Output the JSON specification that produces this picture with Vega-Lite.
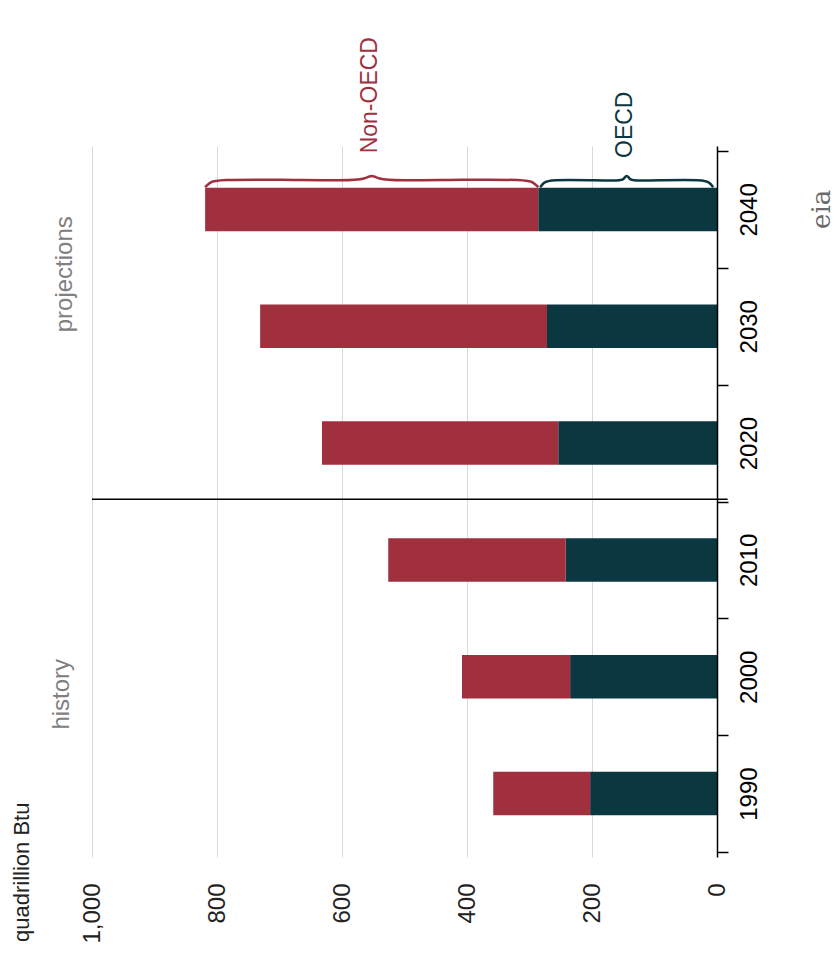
{
  "$schema": "https://vega.github.io/schema/vega-lite/v6.json",
  "width": 625,
  "height": 711,
  "autosize": {"type": "none"},
  "padding": {"left": 92, "top": 146, "right": 122, "bottom": 108},
  "background": "white",
  "config": {"view": {"stroke": null}, "font": "Liberation Sans"},
  "datasets": {
    "bars": [
      {"year": 1990, "region": "OECD", "value": 203},
      {"year": 1990, "region": "Non-OECD", "value": 155},
      {"year": 2000, "region": "OECD", "value": 235},
      {"year": 2000, "region": "Non-OECD", "value": 173},
      {"year": 2010, "region": "OECD", "value": 242},
      {"year": 2010, "region": "Non-OECD", "value": 284},
      {"year": 2020, "region": "OECD", "value": 254},
      {"year": 2020, "region": "Non-OECD", "value": 378},
      {"year": 2030, "region": "OECD", "value": 272},
      {"year": 2030, "region": "Non-OECD", "value": 459},
      {"year": 2040, "region": "OECD", "value": 286},
      {"year": 2040, "region": "Non-OECD", "value": 533}
    ],
    "braces": [
      {"region": "Non-OECD", "v": 819, "y": 2041.9},
      {"region": "Non-OECD", "v": 812, "y": 2042.3},
      {"region": "Non-OECD", "v": 800, "y": 2042.55},
      {"region": "Non-OECD", "v": 700, "y": 2042.55},
      {"region": "Non-OECD", "v": 590, "y": 2042.45},
      {"region": "Non-OECD", "v": 562, "y": 2042.6},
      {"region": "Non-OECD", "v": 552.5, "y": 2043.0},
      {"region": "Non-OECD", "v": 543, "y": 2042.6},
      {"region": "Non-OECD", "v": 515, "y": 2042.45},
      {"region": "Non-OECD", "v": 405, "y": 2042.55},
      {"region": "Non-OECD", "v": 305, "y": 2042.55},
      {"region": "Non-OECD", "v": 293, "y": 2042.3},
      {"region": "Non-OECD", "v": 286, "y": 2041.9},
      {"region": "OECD", "v": 283, "y": 2041.9},
      {"region": "OECD", "v": 277, "y": 2042.3},
      {"region": "OECD", "v": 268, "y": 2042.55},
      {"region": "OECD", "v": 200, "y": 2042.5},
      {"region": "OECD", "v": 154, "y": 2042.45},
      {"region": "OECD", "v": 149, "y": 2042.6},
      {"region": "OECD", "v": 144.5, "y": 2043.0},
      {"region": "OECD", "v": 140, "y": 2042.6},
      {"region": "OECD", "v": 135, "y": 2042.45},
      {"region": "OECD", "v": 89, "y": 2042.5},
      {"region": "OECD", "v": 21, "y": 2042.55},
      {"region": "OECD", "v": 12, "y": 2042.3},
      {"region": "OECD", "v": 6, "y": 2041.9}
    ]
  },
  "layer": [
    {
      "data": {"name": "bars"},
      "mark": {"type": "bar", "orient": "horizontal", "size": 43.5},
      "encoding": {
        "y": {
          "field": "year",
          "type": "quantitative",
          "scale": {"domain": [1985, 2045], "nice": false, "zero": false},
          "axis": {
            "orient": "right",
            "zindex": 1,
            "values": [1985, 1990, 1995, 2000, 2005, 2010, 2015, 2020, 2025, 2030, 2035, 2040, 2045],
            "format": "d",
            "labelExpr": "datum.value % 10 === 0 ? datum.label : ''",
            "title": null,
            "grid": false,
            "domainColor": "black",
            "domainWidth": 1.5,
            "tickColor": "black",
            "tickWidth": 1.5,
            "tickSize": 11,
            "tickOpacity": {"condition": {"test": "datum.value % 10 === 0", "value": 0}, "value": 1},
            "labelAngle": 270,
            "labelAlign": "center",
            "labelBaseline": "top",
            "labelPadding": 9,
            "labelFontSize": 24,
            "labelColor": "black",
            "labelOverlap": false
          }
        },
        "x": {
          "field": "value",
          "type": "quantitative",
          "stack": "zero",
          "scale": {"domain": [0, 1000], "reverse": true, "nice": false},
          "axis": {
            "values": [0, 200, 400, 600, 800, 1000],
            "format": ",d",
            "title": null,
            "domain": false,
            "ticks": false,
            "tickSize": 0,
            "labelAngle": 270,
            "labelAlign": "right",
            "labelBaseline": "middle",
            "labelPadding": 26,
            "labelFontSize": 24,
            "labelColor": "#222222",
            "grid": true,
            "gridColor": "#d9d9d9",
            "gridWidth": 1
          }
        },
        "color": {
          "field": "region",
          "type": "nominal",
          "scale": {"domain": ["OECD", "Non-OECD"], "range": ["#0A3740", "#A0303E"]},
          "legend": null
        },
        "order": {"field": "region", "sort": "descending"}
      }
    },
    {
      "data": {"name": "braces"},
      "mark": {"type": "line", "interpolate": "basis", "strokeWidth": 2.5},
      "encoding": {
        "x": {"field": "v", "type": "quantitative"},
        "y": {"field": "y", "type": "quantitative"},
        "color": {"field": "region", "type": "nominal", "legend": null}
      }
    },
    {
      "data": {"values": [{"y": 2015.2, "x1": 1000, "x2": -17}]},
      "mark": {"type": "rule", "color": "black", "strokeWidth": 1.5},
      "encoding": {
        "y": {"field": "y", "type": "quantitative"},
        "x": {"field": "x1", "type": "quantitative"},
        "x2": {"field": "x2"}
      }
    },
    {
      "data": {"values": [{"label": "history", "v": 1048, "yr": 1998.5}, {"label": "projections", "v": 1043, "yr": 2034.45}]},
      "mark": {"type": "text", "angle": 270, "align": "center", "baseline": "middle", "fontSize": 24, "color": "#808080"},
      "encoding": {
        "x": {"field": "v", "type": "quantitative"},
        "y": {"field": "yr", "type": "quantitative"},
        "text": {"field": "label"}
      }
    },
    {
      "data": {"values": [{"label": "Non-OECD", "v": 555, "yr": 2044.8}]},
      "mark": {"type": "text", "angle": 270, "align": "left", "baseline": "middle", "fontSize": 23, "color": "#A0303E"},
      "encoding": {
        "x": {"field": "v", "type": "quantitative"},
        "y": {"field": "yr", "type": "quantitative"},
        "text": {"field": "label"}
      }
    },
    {
      "data": {"values": [{"label": "OECD", "v": 147, "yr": 2044.4}]},
      "mark": {"type": "text", "angle": 270, "align": "left", "baseline": "middle", "fontSize": 23, "color": "#0A3740"},
      "encoding": {
        "x": {"field": "v", "type": "quantitative"},
        "y": {"field": "yr", "type": "quantitative"},
        "text": {"field": "label"}
      }
    },
    {
      "data": {"values": [{"label": "quadrillion  Btu", "v": 1112, "yr": 1977.3}]},
      "mark": {"type": "text", "angle": 270, "align": "left", "baseline": "middle", "fontSize": 22, "color": "#222222"},
      "encoding": {
        "x": {"field": "v", "type": "quantitative"},
        "y": {"field": "yr", "type": "quantitative"},
        "text": {"field": "label"}
      }
    },
    {
      "data": {"values": [{"label": "eia", "v": -168, "yr": 2040}]},
      "mark": {"type": "text", "angle": 270, "align": "center", "baseline": "middle", "fontSize": 26, "font": "DejaVu Serif", "color": "#6b6b6b"},
      "encoding": {
        "x": {"field": "v", "type": "quantitative"},
        "y": {"field": "yr", "type": "quantitative"},
        "text": {"field": "label"}
      }
    }
  ]
}
